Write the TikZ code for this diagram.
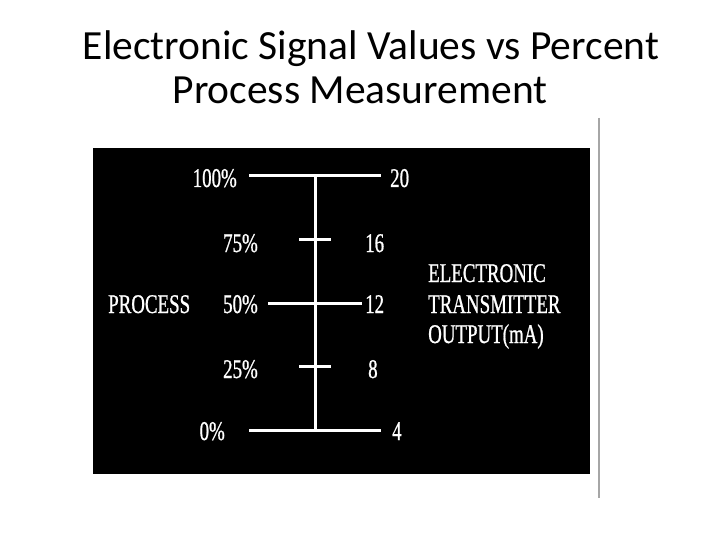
\documentclass[tikz,border=0pt]{standalone}
\usepackage{fontspec}
\setmainfont{Carlito}
\newfontfamily\scanfont[FakeStretch=0.7,FakeBold=0.8]{Liberation Serif}
\begin{document}
\begin{tikzpicture}[x=1pt,y=-1pt,
  title line/.style={font=\fontsize{41.5}{44}\selectfont,inner sep=0pt,anchor=base},
  scale label/.style={white,font=\scanfont\fontsize{27}{30}\selectfont,inner sep=0pt},
  rung/.style={white,line width=3pt}]
  \useasboundingbox[fill=white] (0,0) rectangle (720,540);

  % Title
  \node[title line] (title1) at (371,60) {Electronic Signal Values vs Percent};
  \node[title line] (title2) at (360,104) {Process Measurement};

  % Scanned panel
  \fill[black] (93,148) rectangle (590,474);
  \draw[gray!70,line width=2pt] (599,118) -- (599,498);

  % Ladder
  \coordinate (top) at (315,176);
  \coordinate (bot) at (315,430);
  \draw[rung] (top) -- (bot);
  \foreach \y/\w [count=\i] in {176/66, 239/16, 303/47, 366/16, 430/66} {
    \coordinate (l\i) at (315-\w,\y);
    \coordinate (r\i) at (315+\w,\y);
    \draw[rung] (l\i) -- (r\i);
  }

  % Percent side
  \node[scale label,anchor=base east] (p100) at (237,187) {100\%};
  \node[scale label,anchor=base east] (p75) at (258,252) {75\%};
  \node[scale label,anchor=base east] (p50) at (258,313) {50\%};
  \node[scale label,anchor=base east] (p25) at (258,378) {25\%};
  \node[scale label,anchor=base east] (p0) at (225,440) {0\%};
  \node[scale label,anchor=base west] (process) at (108,313) {PROCESS};

  % Milliamp side
  \node[scale label,anchor=base west] (ma20) at (390,187) {20};
  \node[scale label,anchor=base west] (ma16) at (365,252) {16};
  \node[scale label,anchor=base west] (ma12) at (365,313) {12};
  \node[scale label,anchor=base west] (ma8) at (368,378) {8};
  \node[scale label,anchor=base west] (ma4) at (392,440) {4};
  \node[scale label,anchor=base west] (out1) at (428,282) {ELECTRONIC};
  \node[scale label,anchor=base west] (out2) at (428,313) {TRANSMITTER};
  \node[scale label,anchor=base west] (out3) at (428,343) {OUTPUT(mA)};
\end{tikzpicture}
\end{document}
